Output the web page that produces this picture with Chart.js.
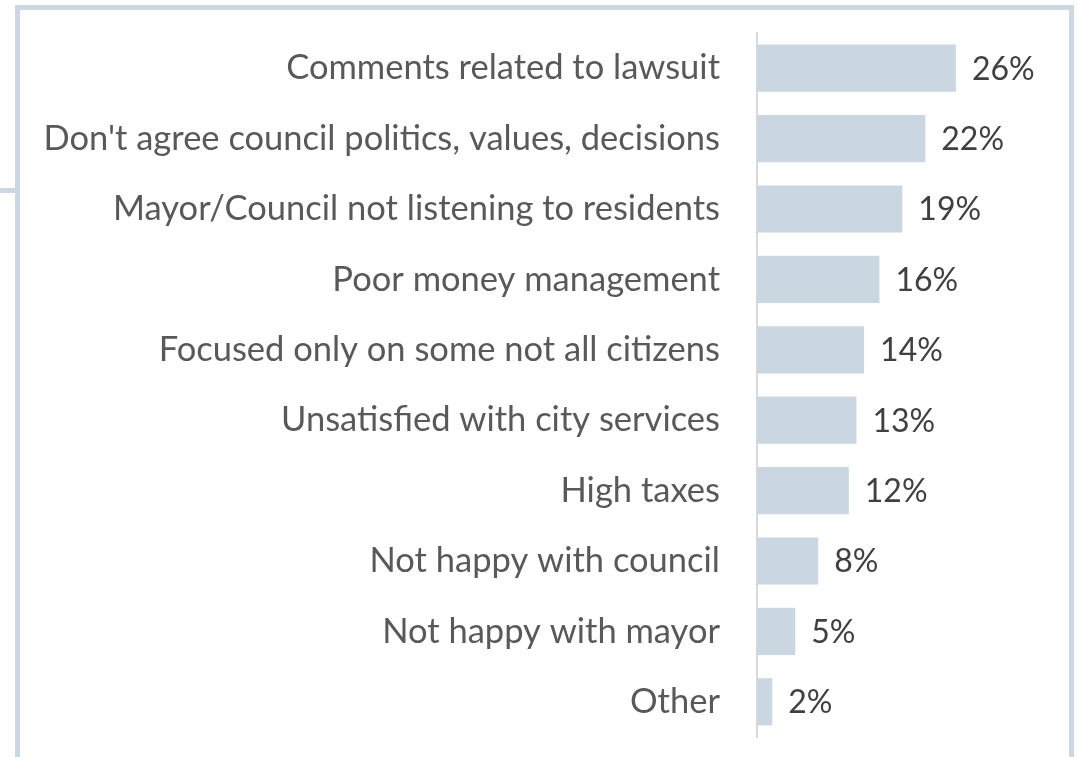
<!DOCTYPE html>
<html>
<head>
<meta charset="utf-8">
<script src="https://cdn.jsdelivr.net/npm/chart.js@4.4.1/dist/chart.umd.min.js"></script>
<style>
  html, body { margin: 0; padding: 0; background: #ffffff; }
  #wrap { width: 1077px; height: 757px; position: relative; }
</style>
</head>
<body>
<div id="wrap"><canvas id="chart" width="1077" height="757"></canvas></div>
<script>
const categories = [
  "Comments related to lawsuit",
  "Don't agree council politics, values, decisions",
  "Mayor/Council not listening to residents",
  "Poor money management",
  "Focused only on some not all citizens",
  "Unsatisfied with city services",
  "High taxes",
  "Not happy with council",
  "Not happy with mayor",
  "Other"
];
const shares = [26, 22, 19, 16, 14, 13, 12, 8, 5, 2];
const valueLabels = ["26%", "22%", "19%", "16%", "14%", "13%", "12%", "8%", "5%", "2%"];

const FONT = "Lato, 'Open Sans', sans-serif";
const FRAME = "#cbd7e3";

// Light frame around the panel, with a short stub off its left edge
const framePlugin = {
  id: "frame",
  beforeDraw(chart) {
    const ctx = chart.ctx;
    ctx.save();
    ctx.fillStyle = FRAME;
    ctx.fillRect(15, 5, 1059, 5);     // top
    ctx.fillRect(15, 5, 5, 752);      // left
    ctx.fillRect(1069, 5, 5, 752);    // right
    ctx.fillRect(0, 188, 15, 5);      // stub
    ctx.restore();
  }
};

// Percentage label just past the end of each bar
const valueLabelPlugin = {
  id: "valueLabels",
  afterDatasetsDraw(chart) {
    const ctx = chart.ctx;
    const meta = chart.getDatasetMeta(0);
    ctx.save();
    ctx.font = "32px " + FONT;
    ctx.fillStyle = "#404040";
    ctx.textAlign = "left";
    ctx.textBaseline = "middle";
    meta.data.forEach((bar, i) => {
      ctx.fillText(valueLabels[i], bar.x + 16, bar.y + 1);
    });
    ctx.restore();
  }
};

new Chart(document.getElementById("chart"), {
  type: "bar",
  data: {
    labels: categories,
    datasets: [{
      data: shares,
      backgroundColor: "#cad6e2",
      borderWidth: 0,
      categoryPercentage: 1,
      barPercentage: 0.67
    }]
  },
  options: {
    indexAxis: "y",
    responsive: false,
    animation: false,
    devicePixelRatio: 1,
    layout: { padding: { top: 33, bottom: 20, left: 0, right: 14 } },
    plugins: {
      legend: { display: false },
      tooltip: { enabled: false }
    },
    scales: {
      x: {
        display: false,
        min: 0,
        max: 40
      },
      y: {
        grid: { display: false, drawTicks: false },
        border: { display: true, color: "#d9d9d9", width: 2 },
        ticks: {
          color: "#595959",
          font: { family: FONT, size: 34.5 },
          padding: 37,
          autoSkip: false
        },
        afterFit(scale) {
          scale.width = 757;
          scale.paddingTop = 0;
          scale.paddingBottom = 0;
        }
      }
    }
  },
  plugins: [framePlugin, valueLabelPlugin]
});
</script>
</body>
</html>
